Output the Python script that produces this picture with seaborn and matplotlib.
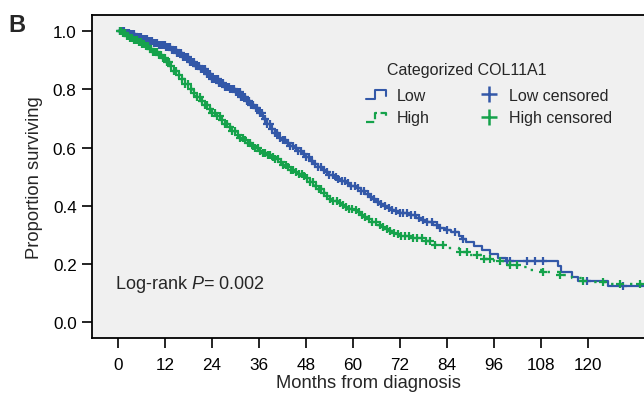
import numpy as np
import pandas as pd
import matplotlib
matplotlib.use("Agg")
import matplotlib.pyplot as plt
import seaborn as sns
from matplotlib.lines import Line2D
from matplotlib.legend_handler import HandlerBase

# step points of the KM curves (months, proportion surviving)
low_t = [0, 1.5, 3, 4.5, 6, 7.5, 9, 10.5, 12, 13.5, 15, 16.5, 18, 19.5, 21, 22.5, 24, 25.5, 27, 28.5,
         30, 31.5, 33, 34, 35, 36, 37, 38, 39, 40, 41, 42, 43, 44, 45, 46, 47, 48, 49, 50,
         51, 52, 53, 54, 55, 56, 57, 58, 59, 60.5, 62, 63, 64, 65, 66, 67, 68, 69, 70, 71,
         72, 74, 76, 77.5, 79, 80.5, 82, 83.5, 85, 87, 88, 89, 91, 93, 95, 97, 99, 112.4, 113.3, 115.9,
         117.5, 125.2, 134.5]
low_s = [1.0, 0.995, 0.99, 0.982, 0.975, 0.968, 0.96, 0.953, 0.945, 0.935, 0.925, 0.91, 0.895, 0.882, 0.87, 0.852, 0.835, 0.822, 0.81, 0.80,
         0.79, 0.775, 0.76, 0.748, 0.735, 0.718, 0.70, 0.682, 0.665, 0.65, 0.635, 0.625, 0.615, 0.607, 0.60, 0.59, 0.58, 0.568, 0.555, 0.545,
         0.535, 0.525, 0.515, 0.507, 0.50, 0.492, 0.485, 0.477, 0.47, 0.46, 0.45, 0.44, 0.43, 0.422, 0.415, 0.407, 0.40, 0.393, 0.387, 0.382,
         0.377, 0.37, 0.36, 0.352, 0.345, 0.335, 0.325, 0.317, 0.31, 0.295, 0.285, 0.275, 0.262, 0.25, 0.235, 0.222, 0.211, 0.195, 0.173, 0.156,
         0.143, 0.126, 0.126]

high_t = [0, 1, 2, 3, 4, 5, 6, 7, 8, 9, 10, 11, 12, 13, 14, 15, 16, 17, 18, 19,
          20, 21, 22, 23, 24, 25, 26, 27, 28, 29, 30, 31, 32, 33, 34, 35, 36, 37, 38, 39,
          40, 41, 42, 43, 44, 45, 46, 47, 48, 49, 50, 51, 52, 53, 54, 55, 56, 57, 58, 59,
          60, 61, 62, 63, 64, 65, 66, 67, 68, 69, 70, 71, 72, 75, 78, 81, 84, 87, 90, 93,
          96, 99, 102, 105, 108.6, 113, 116, 118.8, 121, 126, 134.5]
high_s = [1.0, 0.993, 0.985, 0.978, 0.97, 0.964, 0.958, 0.949, 0.94, 0.93, 0.92, 0.908, 0.895, 0.88, 0.865, 0.85, 0.835, 0.818, 0.80, 0.788,
          0.775, 0.76, 0.745, 0.732, 0.72, 0.708, 0.695, 0.682, 0.67, 0.657, 0.645, 0.635, 0.625, 0.615, 0.605, 0.598, 0.59, 0.582, 0.575, 0.568,
          0.56, 0.55, 0.54, 0.532, 0.525, 0.518, 0.51, 0.502, 0.495, 0.483, 0.47, 0.457, 0.445, 0.435, 0.425, 0.418, 0.41, 0.402, 0.395, 0.39,
          0.385, 0.378, 0.37, 0.362, 0.355, 0.345, 0.335, 0.328, 0.32, 0.314, 0.308, 0.303, 0.298, 0.29, 0.278, 0.265, 0.255, 0.243, 0.232, 0.218,
          0.21, 0.198, 0.19, 0.18, 0.172, 0.162, 0.152, 0.143, 0.137, 0.132, 0.132]

# censoring times (months)
low_cens = [0.5, 0.9, 1.4, 1.8, 2.3, 2.7, 3.2, 3.6, 4.1, 4.5, 5, 5.5, 5.9, 6.4, 6.8, 7.3, 7.7, 8.2, 8.7, 9.1,
            9.6, 10, 10.5, 11, 11.4, 11.9, 12.3, 12.8, 13.3, 13.7, 14.2, 14.7, 15.1, 15.6, 16, 16.5, 17, 17.4, 17.9, 18.4,
            18.8, 19.3, 19.8, 20.2, 20.7, 21.2, 21.6, 22.1, 22.6, 23, 23.5, 24, 24.4, 24.9, 25.4, 25.8, 26.3, 26.8, 27.3, 27.7,
            28.2, 28.7, 29.2, 29.6, 30.1, 30.6, 31.1, 31.5, 32, 32.5, 33, 33.5, 34, 34.5, 35.1, 35.6, 36.2, 36.8, 37.5, 38.1,
            38.8, 39.4, 40.1, 40.7, 41.4, 42, 42.7, 43.4, 44, 44.7, 45.4, 46, 46.7, 47.4, 48.1, 48.8, 49.5, 50.3, 51, 51.8,
            52.5, 53.3, 54, 54.8, 55.6, 56.3, 57.1, 57.9, 58.7, 59.5, 60.4, 61.2, 62, 62.9, 63.8, 64.6, 65.5, 66.4, 67.3, 68.2,
            69.1, 70, 71, 72, 72.9, 73.9, 74.8, 75.8, 76.8, 77.8, 79, 80.2, 81.5, 82.2, 84, 86, 88.1, 99.4, 100.1, 104.4,
            106.5, 108.6, 119.8, 129]
high_cens = [0.4, 0.8, 1.3, 1.7, 2.2, 2.6, 3.1, 3.5, 4, 4.4, 4.9, 5.3, 5.8, 6.2, 6.7, 7.1, 7.6, 8, 8.5, 9,
             9.4, 9.9, 10.4, 10.9, 11.4, 11.9, 12.4, 12.9, 13.5, 14.2, 14.8, 15.6, 16.3, 17.2, 17.8, 18.7, 19.3, 20.2, 20.8, 21.5,
             22.1, 22.8, 23.4, 24, 24.7, 25.3, 25.9, 26.6, 27.2, 27.9, 28.5, 29.2, 29.8, 30.5, 31.1, 31.8, 32.4, 33.1, 33.7, 34.4,
             35, 35.7, 36.3, 37, 37.6, 38.3, 38.9, 39.6, 40.2, 40.9, 41.5, 42.2, 42.8, 43.5, 44.2, 44.8, 45.5, 46.2, 46.9, 47.6,
             48.3, 49, 49.7, 50.5, 51.2, 51.9, 52.7, 53.4, 54.2, 55, 55.8, 56.6, 57.4, 58.2, 59, 59.8, 60.7, 61.5, 62.4, 63.2,
             64.1, 65, 65.9, 66.8, 67.7, 68.6, 69.5, 70.4, 71.4, 72.4, 73.4, 74.4, 75.4, 76.5, 77.6, 78.7, 79.8, 81, 83, 87.3,
             89.1, 91.7, 93.5, 95, 97.6, 100.1, 101.9, 108.6, 113, 118.8, 123.9, 128.2, 133.3]

x_ticks = [0, 12, 24, 36, 48, 60, 72, 84, 96, 108, 120]
y_ticks = [0.0, 0.2, 0.4, 0.6, 0.8, 1.0]

blue = "#3358a8"
green = "#15a24b"


def at_time(times, surv, t):
    idx = np.searchsorted(times, t, side="right") - 1
    return np.asarray(surv)[idx]


class StepHandler(HandlerBase):
    def create_artists(self, legend, orig_handle, xdescent, ydescent, width, height, fontsize, trans):
        x = np.array([0, 0.4, 0.4, 0.95, 0.95]) * width - xdescent
        y = np.array([0.05, 0.05, 0.85, 0.85, 0.35]) * height - ydescent
        line = Line2D(x, y, color=orig_handle.get_color(), linestyle=orig_handle.get_linestyle(),
                      linewidth=orig_handle.get_linewidth())
        line.set_transform(trans)
        return [line]


sns.set_theme(style="ticks")
plt.rcParams["font.family"] = ["Liberation Sans", "DejaVu Sans"]
plt.rcParams["mathtext.fontset"] = "custom"
plt.rcParams["mathtext.it"] = "Liberation Sans:italic"
plt.rcParams["mathtext.rm"] = "Liberation Sans"

fig = plt.figure(figsize=(6.44, 4.02), dpi=100)
ax = fig.add_axes([92 / 644, 1 - 339 / 402, 1 - 92 / 644, (339 - 16) / 402])
ax.set_facecolor("#f0f0f0")

low_df = pd.DataFrame({"t": low_t, "s": low_s})
high_df = pd.DataFrame({"t": high_t, "s": high_s})
sns.lineplot(data=low_df, x="t", y="s", drawstyle="steps-post", estimator=None, sort=False,
             color=blue, linewidth=1.6, ax=ax)
sns.lineplot(data=high_df, x="t", y="s", drawstyle="steps-post", estimator=None, sort=False,
             color=green, linewidth=1.7, linestyle=(0, (1, 3)), ax=ax)

low_c = pd.DataFrame({"t": low_cens, "s": at_time(low_t, low_s, low_cens)})
high_c = pd.DataFrame({"t": high_cens, "s": at_time(high_t, high_s, high_cens)})
sns.scatterplot(data=low_c, x="t", y="s", marker="+", s=38, linewidth=1.6, color=blue, ax=ax, zorder=3)
sns.scatterplot(data=high_c, x="t", y="s", marker="+", s=38, linewidth=1.6, color=green, ax=ax, zorder=3)

ax.set_xlim(-6.7, 134.4)
ax.set_ylim(-0.054, 1.056)
ax.set_xticks(x_ticks)
ax.set_yticks(y_ticks)
ax.set_yticklabels([f"{v:.1f}" for v in y_ticks])
ax.tick_params(axis="both", length=7, width=1.2, labelsize=12.3, colors="black", pad=4)
ax.tick_params(axis="x", pad=7)
for side in ["left", "top", "bottom"]:
    ax.spines[side].set_color("black")
    ax.spines[side].set_linewidth(1.3)
ax.spines["right"].set_visible(False)

ax.set_xlabel("Months from diagnosis", fontsize=13.2, labelpad=1)
ax.set_ylabel("Proportion surviving", fontsize=13.2, labelpad=7)

ax.text(-0.8, 0.135, "Log-rank $P$= 0.002", fontsize=13, va="center", ha="left")

fig.text(387 / 644, 1 - 70 / 402, "Categorized COL11A1", fontsize=11.5, va="center", ha="left")
handles = [
    Line2D([], [], color=blue, linewidth=1.5),
    Line2D([], [], color=green, linewidth=1.6, linestyle=(0, (1, 2))),
    Line2D([], [], color=blue, marker="+", linestyle="none", markersize=12, markeredgewidth=1.8),
    Line2D([], [], color=green, marker="+", linestyle="none", markersize=12, markeredgewidth=1.8),
]
labels = ["Low", "High", "Low censored", "High censored"]
ax.legend(handles, labels, ncol=2, frameon=False, fontsize=11.5,
          loc="upper left", bbox_to_anchor=(366 / 644, 1 - 89 / 402), bbox_transform=fig.transFigure,
          borderpad=0, borderaxespad=0, handlelength=1.35, handletextpad=0.6,
          columnspacing=3.0, labelspacing=0.45,
          handler_map={handles[0]: StepHandler(), handles[1]: StepHandler()})

fig.text(8 / 644, 1 - 26 / 402, "B", fontsize=17, fontweight="bold", va="center", ha="left")

fig.savefig("out.png", dpi=100)
